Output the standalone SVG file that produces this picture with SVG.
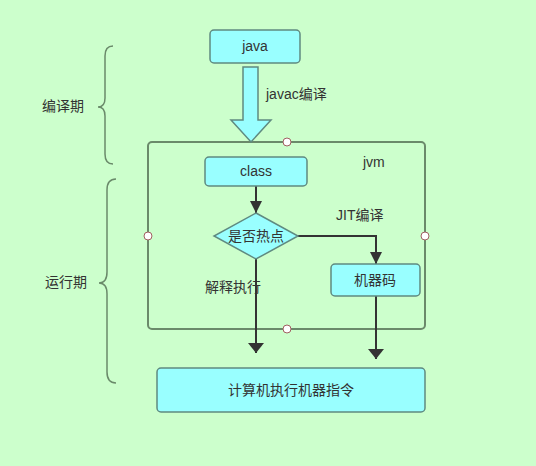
<svg xmlns="http://www.w3.org/2000/svg" width="536" height="466" viewBox="0 0 536 466">
<style>
.bg{fill:#ccffcc}
.box{fill:#99ffff;stroke:#5f8a80;stroke-width:1.5}
.t{font-family:"Liberation Sans","Noto Sans CJK SC",sans-serif;font-size:14px;fill:#333}
.c{text-anchor:middle}
.ln{stroke:#333;stroke-width:2;fill:none}
.frame{fill:none;stroke:#6a8a6a;stroke-width:2}
.dot{fill:#fff;stroke:#a06060;stroke-width:1}
.brace{fill:none;stroke:#6a8a6a;stroke-width:1.5}
</style>
<defs>
<marker id="ah" viewBox="0 0 10 16" refX="10" refY="8" markerWidth="10" markerHeight="16" markerUnits="userSpaceOnUse" orient="auto">
<path d="M0,0 L10,8 L0,16 Z" fill="#333"/>
</marker>
<marker id="ahs" viewBox="0 0 10 10" refX="10" refY="5" markerWidth="14" markerHeight="12" markerUnits="userSpaceOnUse" orient="auto">
<path d="M0,0 L10,5 L0,10 Z" fill="#333"/>
</marker>
</defs>
<rect class="bg" x="0" y="0" width="536" height="466"/>
<g id="braces">
<path class="brace" d="M113,46 Q105,46 105,56 L105,98 Q105,107 98,107 Q105,107 105,116 L105,154 Q105,164 113,164"/>
<path class="brace" d="M116,179 Q107,179 107,190 L107,272 Q107,283 99,283 Q107,283 107,294 L107,372 Q107,383 116,383"/>
</g>
<g id="jvm">
<rect class="frame" x="148" y="142" width="277" height="187" rx="4"/>
<circle class="dot" cx="287" cy="142" r="4"/>
<circle class="dot" cx="148" cy="236" r="4"/>
<circle class="dot" cx="425" cy="236" r="4"/>
<circle class="dot" cx="287" cy="329" r="4"/>
<text class="t" x="363" y="167">jvm</text>
</g>
<g id="connectors">
<path d="M243,67 L258,67 L258,120 L271,120 L251,142 L231,120 L243,120 Z" fill="#99ffff" stroke="#5f8a80" stroke-width="1.5"/>
<line class="ln" x1="256" y1="186" x2="256" y2="213" marker-end="url(#ahs)"/>
<polyline class="ln" points="298,236 376,236 376,264" marker-end="url(#ahs)"/>
<line class="ln" x1="256" y1="259" x2="256" y2="353" stroke-width="3" marker-end="url(#ah)"/>
<line class="ln" x1="376" y1="296" x2="376" y2="359" marker-end="url(#ah)"/>
<text class="t" x="266" y="99">javac编译</text>
<text class="t" x="336" y="220">JIT编译</text>
<text class="t" x="205" y="292">解释执行</text>
</g>
<g id="java">
<rect class="box" x="210" y="30" width="90" height="33" rx="4"/>
<text class="t c" x="255" y="51">java</text>
</g>
<g id="class">
<rect class="box" x="205" y="157" width="102" height="29" rx="4"/>
<text class="t c" x="256" y="176">class</text>
</g>
<g id="hot">
<polygon class="box" points="256,213 298,236 256,259 214,236"/>
<text class="t c" x="256" y="241">是否热点</text>
</g>
<g id="machine">
<rect class="box" x="331" y="264" width="89" height="32" rx="4"/>
<text class="t c" x="375" y="285">机器码</text>
</g>
<g id="exec">
<rect class="box" x="157" y="368" width="268" height="44" rx="4"/>
<text class="t c" x="291" y="395">计算机执行机器指令</text>
</g>
<g id="phases">
<text class="t" x="42" y="111">编译期</text>
<text class="t" x="45" y="287">运行期</text>
</g>
</svg>
